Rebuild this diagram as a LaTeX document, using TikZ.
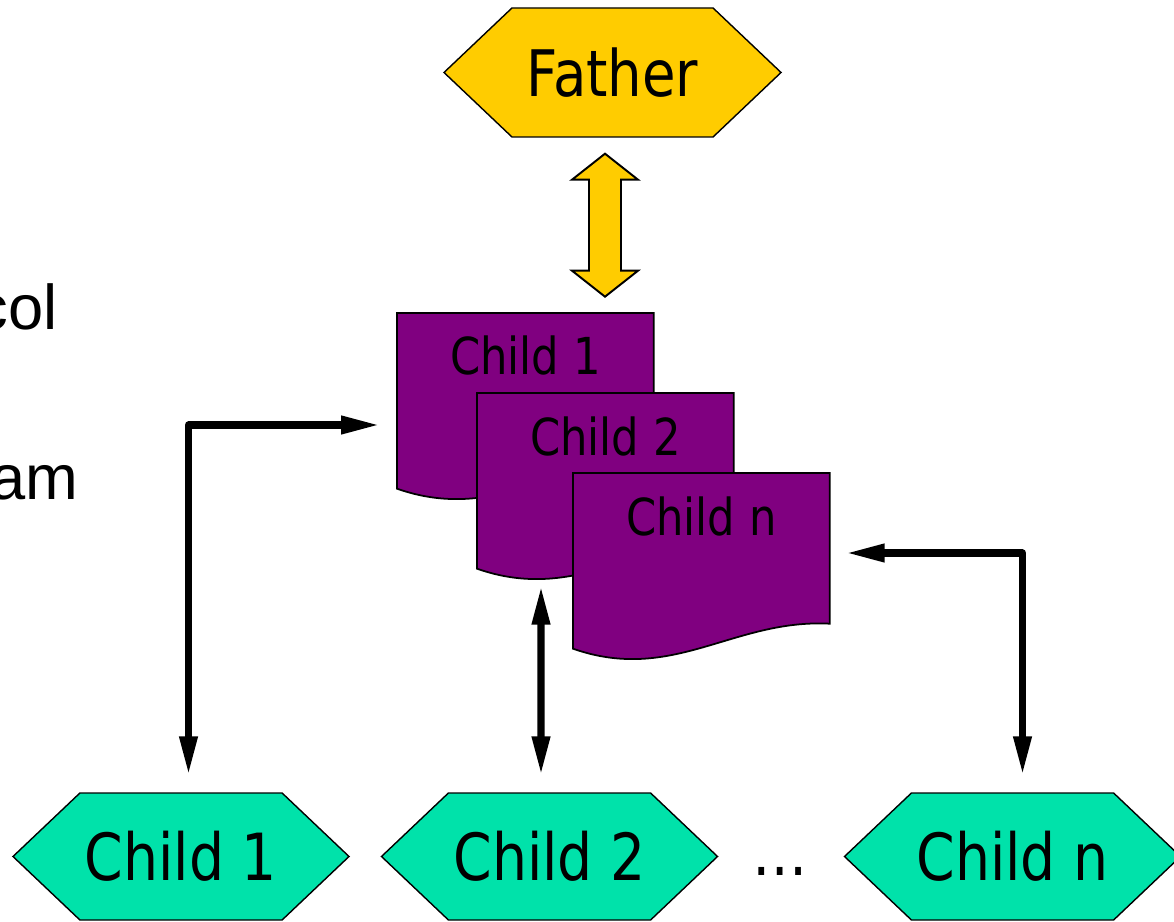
\documentclass[tikz,border=0pt]{standalone}
\usepackage{fontspec}
\setmainfont{DejaVu Sans}[FakeStretch=0.85]
\newfontfamily\slidefont{Liberation Sans}
\usepackage{tikz}
\usetikzlibrary{arrows.meta,positioning,calc,shapes.symbols}

\definecolor{fathergold}{HTML}{FFCC00}
\definecolor{childgreen}{HTML}{00E2AA}
\definecolor{docpurple}{HTML}{800080}

% wavy page drawn on an (invisible) docbox node
\newcommand{\docpage}[1]{%
  \filldraw[docfill] (#1.north west) -- (#1.north east) -- ($(#1.south east)+(0,0.5)$)
    .. controls ($(#1.south west)+(3.2,0.6)$) and ($(#1.south west)+(2.0,-0.7)$) .. (#1.south west) -- cycle;}

\begin{document}
\begin{tikzpicture}[
  hexa/.style={signal,signal to=east and west,signal pointer angle=87,draw,line width=0.8pt,
    inner sep=0pt,minimum width=6.72cm,minimum height=2.54cm,font=\fontsize{37}{44}\selectfont},
  docbox/.style={rectangle,inner sep=0pt,minimum width=5.12cm,minimum height=3.5cm,anchor=north west},
  docfill/.style={fill=docpurple,draw,line width=1pt},
  doctxt/.style={anchor=base,font=\fontsize{29}{35}\selectfont},
  conn/.style={line width=4pt,line join=round,{Triangle[length=7.8mm,width=3.4mm]}-{Triangle[length=7.8mm,width=3.4mm]}},
  bigarrow/.style={fill=fathergold,draw,line width=1.1pt},
  side/.style={anchor=base east,inner sep=0pt,font={\slidefont\fontsize{36}{43}\selectfont}}]
  \useasboundingbox (0,0) rectangle (23.48,18.42);
  % cut-off words at the left edge
  \node[side] (colw) at (1.16,11.82) {col};
  \node[side] (amw) at (1.58,8.42) {am};
  % father process
  \node[hexa,fill=fathergold,minimum width=6.74cm,minimum height=2.58cm,font=\fontsize{36.5}{44}\selectfont] (father) at (12.25,16.97) {Father};
  \coordinate (linktop) at ([xshift=-0.15cm,yshift=-0.32cm]father.south);
  \filldraw[bigarrow] (linktop) -- ++(0.66,-0.52) -- ++(-0.34,0) -- ++(0,-1.82) -- ++(0.34,0) -- ++(-0.66,-0.52)
    -- ++(-0.66,0.52) -- ++(0.34,0) -- ++(0,1.82) -- ++(-0.34,0) -- cycle;
  % stacked child copies
  \node[docbox] (d1) at (7.94,12.16) {};
  \docpage{d1}
  \node[doctxt] (t1) at ([yshift=-1.24cm]d1.north) {Child 1};
  \node[docbox] (d2) at (9.54,10.56) {};
  \docpage{d2}
  \node[doctxt] (t2) at ([yshift=-1.26cm]d2.north) {Child 2};
  \node[docbox] (d3) at (11.46,8.96) {};
  \docpage{d3}
  \node[doctxt] (t3) at ([yshift=-1.26cm]d3.north) {Child n};
  % running children
  \node[hexa,fill=childgreen] (c1) at (3.62,1.29) {Child 1};
  \node[hexa,fill=childgreen] (c2) at (10.99,1.29) {Child 2};
  \node[hexa,fill=childgreen] (c3) at (20.25,1.29) {Child n};
  \node[font=\fontsize{37}{44}\selectfont] (dots) at (15.6,1.0) {…};
  % links
  \coordinate (in1) at ([xshift=-0.34cm,yshift=-2.24cm]d1.north west);
  \coordinate (out1) at ([xshift=0.15cm,yshift=0.34cm]c1.north);
  \draw[conn] (in1) -| (out1);
  \coordinate (in2) at ([xshift=1.28cm,yshift=-0.34cm]d2.south west);
  \coordinate (out2) at ([xshift=-0.17cm,yshift=0.34cm]c2.north);
  \draw[conn] (in2) -- (out2);
  \coordinate (in3) at ([xshift=0.32cm,yshift=-1.6cm]d3.north east);
  \coordinate (out3) at ([xshift=0.2cm,yshift=0.34cm]c3.north);
  \draw[conn] (in3) -| (out3);
\end{tikzpicture}
\end{document}
